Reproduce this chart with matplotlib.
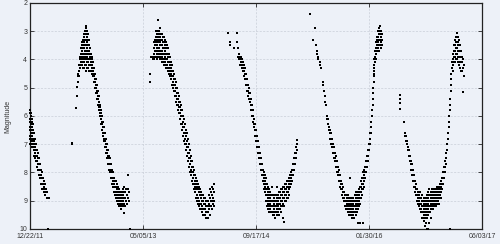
import matplotlib
matplotlib.use("Agg")
import matplotlib.pyplot as plt

# days counted from 12/22/11, each entry: (day, [magnitudes seen that day])
cycle_a = [
	(0, [5.8, 5.9, 6.1, 6.2, 6.4, 6.5, 6.7, 6.8, 7.0]),
	(4, [5.9, 6.0, 6.2, 6.3, 6.5, 6.6, 6.8, 6.9, 7.0]),
	(9, [6.1, 6.2, 6.4, 6.5, 6.7, 6.9, 7.0, 7.1]),
	(13, [6.3, 6.5, 6.6, 6.8, 6.9, 7.1]),
	(18, [6.6, 6.8, 6.9, 7.0, 7.2, 7.4]),
	(22, [6.8, 7.0, 7.1, 7.3, 7.5]),
	(27, [7.0, 7.2, 7.4, 7.6]),
	(31, [7.2, 7.4, 7.6, 7.8]),
	(35, [7.3, 7.5, 7.7, 7.9]),
	(40, [7.5, 7.7, 7.9, 8.1]),
	(44, [7.7, 7.9, 8.1, 8.2]),
	(49, [7.9, 8.1, 8.2, 8.4]),
	(53, [8.0, 8.2, 8.4, 8.6]),
	(57, [8.2, 8.4, 8.6]),
	(62, [8.3, 8.5, 8.6, 8.7]),
	(66, [8.4, 8.6, 8.8]),
	(71, [8.6, 8.7]),
	(75, [8.7, 8.9]),
	(80, [8.9, 10.0]),
	(84, [8.9]),
]

cycle_b = [
	(187, [6.95, 7.0]), (202, [5.72]), (207, [5.3]), (209, [4.98]),
	(212, [4.5, 4.6, 4.8]),
	(217, [4.2, 4.4, 4.6]),
	(221, [3.9, 4.0, 4.2, 4.3]),
	(226, [3.6, 3.8, 3.9, 4.1, 4.2]),
	(230, [3.4, 3.5, 3.7, 3.9, 4.0, 4.2]),
	(235, [3.3, 3.5, 3.6, 3.8, 4.0, 4.1, 4.3]),
	(239, [3.1, 3.2, 3.4, 3.6, 3.8, 3.9, 4.1, 4.3]),
	(243, [3.0, 3.3, 3.5, 3.7, 3.9, 4.0, 4.2]),
	(248, [2.8, 2.9, 3.1, 3.3, 3.5, 3.7, 3.8, 4.0, 4.2, 4.4]),
	(252, [3.0, 3.2, 3.4, 3.6, 3.8, 3.9, 4.1, 4.3]),
	(257, [3.1, 3.3, 3.5, 3.7, 3.8, 4.0, 4.1, 4.3]),
	(261, [3.3, 3.5, 3.7, 3.8, 4.0, 4.2, 4.4]),
	(266, [3.6, 3.8, 3.9, 4.0, 4.2, 4.4]),
	(270, [3.8, 3.9, 4.1, 4.2, 4.4]),
	(274, [3.9, 4.0, 4.2, 4.3, 4.5]),
	(279, [4.1, 4.3, 4.4, 4.6]),
	(283, [4.3, 4.5, 4.6, 4.8]),
	(288, [4.5, 4.7, 4.8, 5.0]),
	(292, [4.7, 4.9, 5.0, 5.2]),
	(297, [4.9, 5.1, 5.2, 5.4]),
	(301, [5.1, 5.3, 5.4, 5.6]),
	(305, [5.3, 5.5, 5.7, 5.8]),
	(310, [5.6, 5.7, 5.9, 6.0]),
	(314, [5.8, 5.9, 6.1, 6.3]),
	(319, [6.0, 6.2, 6.3, 6.5]),
	(323, [6.2, 6.4, 6.6, 6.7]),
	(327, [6.4, 6.6, 6.8, 6.9]),
	(332, [6.6, 6.8, 6.9, 7.1]),
	(336, [6.8, 7.0, 7.1, 7.3]),
	(341, [7.0, 7.2, 7.3, 7.5]),
	(345, [7.2, 7.4, 7.5, 7.7]),
	(349, [7.4, 7.5, 7.7, 7.9]),
	(354, [7.5, 7.7, 7.9, 8.0]),
	(358, [7.7, 7.9, 8.0, 8.2]),
	(363, [7.9, 8.0, 8.2, 8.4]),
	(367, [8.0, 8.2, 8.3, 8.5]),
	(372, [8.2, 8.4, 8.5, 8.7]),
	(376, [8.3, 8.5, 8.7, 8.8]),
	(381, [8.3, 8.5, 8.7, 8.9]),
	(385, [8.4, 8.6, 8.8, 9.0]),
	(389, [8.5, 8.7, 8.9, 9.1]),
	(394, [8.6, 8.8, 9.0, 9.2]),
	(398, [8.7, 8.9, 9.1, 9.2]),
	(403, [8.8, 9.0, 9.2, 9.3]),
	(407, [8.7, 8.9, 9.1, 9.2]),
	(412, [8.6, 8.8, 9.0, 9.2]),
	(416, [8.5, 8.7, 8.9, 9.1, 9.45]),
	(420, [8.7, 8.9, 9.2]),
	(425, [8.6, 9.0]),
	(429, [8.6, 8.8, 9.1]),
	(434, [8.1, 8.6, 8.9]),
	(438, [8.7, 9.0]),
	(443, [10.0]),
]

cycle_c = [
	(530, [4.8]), (532, [4.5]), (537, [3.9]),
	(545, [3.9, 4.0]),
	(549, [3.4, 3.6, 3.8, 4.0]),
	(553, [3.3, 3.5, 3.7, 3.9]),
	(558, [3.0, 3.2, 3.4, 3.5, 3.7, 3.9]),
	(562, [3.1, 3.3, 3.5, 3.6, 3.8, 4.0]),
	(566, [2.6, 3.0, 3.2, 3.4, 3.6, 3.7, 3.9]),
	(571, [3.0, 3.1, 3.3, 3.4, 3.6, 3.8, 3.9]),
	(575, [2.9, 3.2, 3.4, 3.5, 3.7, 3.9, 4.0]),
	(580, [3.1, 3.3, 3.5, 3.7, 3.8, 4.0]),
	(584, [3.1, 3.3, 3.5, 3.7, 3.9, 4.1]),
	(589, [3.2, 3.4, 3.6, 3.8, 4.0, 4.1]),
	(593, [3.2, 3.4, 3.6, 3.8, 4.0, 4.2]),
	(597, [3.3, 3.5, 3.7, 3.9, 4.1, 4.2]),
	(602, [3.4, 3.6, 3.8, 4.0, 4.2, 4.3]),
	(606, [3.5, 3.8, 4.0, 4.2, 4.3]),
	(611, [3.6, 3.9, 4.1, 4.3, 4.4]),
	(615, [3.8, 4.1, 4.3, 4.5]),
	(620, [3.9, 4.2, 4.4, 4.6]),
	(624, [4.1, 4.3, 4.5, 4.7]),
	(628, [4.2, 4.4, 4.6, 4.9]),
	(633, [4.4, 4.6, 4.8, 5.0]),
	(637, [4.5, 4.7, 4.9, 5.1]),
	(642, [4.7, 4.9, 5.1, 5.3]),
	(646, [4.8, 5.0, 5.3, 5.5]),
	(650, [5.0, 5.2, 5.4, 5.6]),
	(655, [5.2, 5.4, 5.6, 5.8]),
	(659, [5.3, 5.5, 5.7, 5.9]),
	(664, [5.5, 5.7, 5.9, 6.1]),
	(668, [5.6, 5.8, 6.0, 6.3]),
	(673, [5.8, 6.0, 6.3, 6.5]),
	(677, [6.0, 6.2, 6.4, 6.7]),
	(681, [6.1, 6.4, 6.6, 6.9]),
	(686, [6.3, 6.6, 6.8, 7.0]),
	(690, [6.5, 6.7, 7.0, 7.2]),
	(695, [6.6, 6.9, 7.1, 7.4]),
	(699, [6.8, 7.1, 7.3, 7.6]),
	(704, [7.0, 7.3, 7.5, 7.8]),
	(708, [7.2, 7.5, 7.7, 8.0]),
	(712, [7.4, 7.6, 7.9, 8.1]),
	(717, [7.6, 7.8, 8.0, 8.3]),
	(721, [7.8, 8.0, 8.2, 8.4]),
	(726, [7.9, 8.1, 8.4, 8.6]),
	(730, [8.1, 8.3, 8.5, 8.7]),
	(735, [8.2, 8.4, 8.6, 8.9]),
	(739, [8.3, 8.5, 8.8, 9.0]),
	(743, [8.4, 8.6, 8.9, 9.1]),
	(748, [8.5, 8.7, 9.0, 9.2]),
	(752, [8.6, 8.8, 9.1, 9.3]),
	(757, [8.7, 8.9, 9.1, 9.3]),
	(761, [8.8, 9.0, 9.2, 9.4]),
	(765, [8.8, 9.0, 9.3, 9.5]),
	(770, [8.9, 9.1, 9.3, 9.5]),
	(774, [8.9, 9.1, 9.3, 9.5]),
	(779, [9.0, 9.2, 9.4, 9.6]),
	(783, [9.0, 9.2, 9.4]),
	(788, [9.0, 9.2, 9.4, 9.6]),
	(792, [8.8, 9.1, 9.3]),
	(797, [8.6, 8.9, 9.2, 9.5]),
	(801, [8.7, 9.0, 9.2]),
	(805, [8.5, 8.8, 9.0, 9.3]),
	(810, [8.6, 8.9, 9.1]),
	(814, [8.4, 8.7, 9.0, 9.2]),
]

cycle_d = [
	(876, [3.05]), (885, [3.4, 3.5]), (903, [3.6]),
	(916, [3.05]), (918, [3.4]),
	(920, [3.6, 3.9]),
	(925, [3.8, 4.0]),
	(929, [3.9, 4.0, 4.2]),
	(934, [3.9, 4.1, 4.2]),
	(938, [4.0, 4.2, 4.3]),
	(943, [4.1, 4.3, 4.4]),
	(947, [4.2, 4.4, 4.6]),
	(951, [4.3, 4.5, 4.7]),
	(956, [4.5, 4.7, 4.9]),
	(960, [4.7, 4.9, 5.1]),
	(965, [4.9, 5.1, 5.3]),
	(969, [5.0, 5.2, 5.4]),
	(974, [5.2, 5.4, 5.5]),
	(978, [5.4, 5.6, 5.8]),
	(982, [5.6, 5.8, 6.0]),
	(987, [5.8, 6.0, 6.2]),
	(991, [6.1, 6.3, 6.4]),
	(996, [6.3, 6.5, 6.7]),
	(1000, [6.5, 6.7, 6.9]),
	(1005, [6.7, 6.9, 7.1]),
	(1009, [6.9, 7.1, 7.3]),
	(1013, [7.1, 7.3, 7.5]),
	(1018, [7.3, 7.5, 7.7]),
	(1022, [7.5, 7.7, 7.9]),
	(1027, [7.7, 7.9, 8.1]),
	(1031, [7.9, 8.1, 8.3]),
	(1035, [8.0, 8.2, 8.4, 8.6]),
	(1040, [8.1, 8.3, 8.5, 8.7]),
	(1044, [8.2, 8.4, 8.6, 8.8, 9.0]),
	(1049, [8.4, 8.6, 8.8, 9.0, 9.2]),
	(1053, [8.5, 8.7, 8.9, 9.1, 9.3]),
	(1058, [8.6, 8.8, 9.0, 9.2, 9.4]),
	(1062, [8.7, 8.9, 9.1, 9.3]),
	(1066, [8.8, 9.0, 9.2, 9.4]),
	(1071, [8.5, 8.8, 9.0, 9.2, 9.4]),
	(1075, [8.8, 9.0, 9.2, 9.4, 9.5]),
	(1080, [8.9, 9.1, 9.3, 9.5]),
	(1084, [8.8, 9.0, 9.2, 9.4, 9.6]),
	(1089, [8.8, 9.0, 9.2, 9.4]),
	(1093, [8.5, 8.9, 9.1, 9.3, 9.5]),
	(1097, [8.8, 9.0, 9.2, 9.4]),
	(1102, [8.7, 8.9, 9.1, 9.3, 9.5]),
	(1106, [8.7, 8.9, 9.1, 9.3]),
	(1111, [8.6, 8.8, 9.0, 9.2, 9.4]),
	(1115, [8.6, 8.8, 9.0, 9.2]),
	(1120, [8.5, 8.7, 8.9, 9.1, 9.6]),
	(1124, [8.5, 8.7, 8.9, 9.2, 9.75]),
	(1128, [8.4, 8.6, 8.8, 9.0]),
	(1133, [8.4, 8.6, 8.8, 9.0]),
	(1137, [8.3, 8.5, 8.7, 8.9]),
	(1142, [8.3, 8.5, 8.7, 8.9]),
	(1146, [8.2, 8.4, 8.6, 8.8]),
	(1150, [8.1, 8.3, 8.5]),
	(1155, [8.0, 8.2, 8.4]),
	(1159, [7.9, 8.1, 8.3]),
	(1164, [7.7, 7.9, 8.1]),
	(1168, [7.5, 7.7, 7.9]),
	(1173, [7.3, 7.5, 7.7]),
	(1177, [7.1, 7.3, 7.5]),
	(1181, [6.85, 7.0, 7.2]),
]

cycle_e = [
	(1238, [2.39]), (1252, [3.3]), (1260, [2.9]), (1267, [3.5]),
	(1272, [3.7, 3.8]),
	(1276, [3.9, 4.0]),
	(1281, [4.1, 4.2]),
	(1287, [4.3]),
	(1297, [4.8, 4.9]),
	(1301, [5.1]),
	(1306, [5.3, 5.5]),
	(1310, [5.6]),
	(1315, [6.0, 6.1]),
	(1319, [6.1, 6.3]),
	(1323, [6.4, 6.5]),
	(1328, [6.5, 6.6, 6.8]),
	(1332, [6.6, 6.8, 7.0]),
	(1336, [6.8, 7.0, 7.1]),
	(1341, [7.0, 7.1, 7.3]),
	(1345, [7.1, 7.3, 7.5]),
	(1350, [7.3, 7.5, 7.6]),
	(1354, [7.4, 7.6, 7.8]),
	(1358, [7.6, 7.8, 8.0]),
	(1363, [7.8, 8.0, 8.1]),
	(1367, [7.9, 8.1, 8.3]),
	(1372, [8.1, 8.3, 8.5]),
	(1376, [8.3, 8.4, 8.6]),
	(1381, [8.4, 8.6, 8.8]),
	(1385, [8.5, 8.7, 8.9]),
	(1389, [8.7, 8.9, 9.0]),
	(1394, [8.8, 9.0, 9.2]),
	(1398, [8.8, 9.0, 9.2, 9.3]),
	(1403, [8.9, 9.1, 9.3]),
	(1407, [8.8, 9.0, 9.2, 9.4]),
	(1412, [8.9, 9.1, 9.3, 9.5]),
	(1415, [8.2]),
	(1416, [9.0, 9.2, 9.4]),
	(1420, [8.9, 9.1, 9.3, 9.5]),
	(1425, [9.0, 9.2, 9.4, 9.6]),
	(1429, [8.9, 9.1, 9.3, 9.5]),
	(1434, [9.0, 9.2, 9.4, 9.6]),
	(1438, [8.8, 9.0, 9.2, 9.4]),
	(1442, [8.7, 8.9, 9.1, 9.3, 9.5]),
	(1447, [8.8, 9.0, 9.2, 9.4]),
	(1451, [8.7, 8.9, 9.1, 9.3, 9.8]),
	(1456, [8.6, 8.8, 9.0, 9.2]),
	(1460, [8.5, 8.7, 8.9, 9.1, 9.8]),
	(1465, [8.3, 8.5, 8.7, 8.9]),
	(1469, [8.2, 8.4, 8.6, 8.8]),
	(1473, [8.0, 8.2, 8.4, 8.6, 9.8]),
	(1478, [7.9, 8.1, 8.3, 8.5]),
	(1482, [7.8, 8.0, 8.2]),
	(1487, [7.6, 7.8, 8.0]),
	(1491, [7.4, 7.6, 7.8]),
	(1496, [7.2, 7.4, 7.6]),
	(1500, [7.0, 7.2]),
	(1505, [6.6, 6.8, 7.0]),
	(1509, [6.2, 6.4, 6.6]),
	(1513, [5.8, 6.0]),
	(1516, [5.4, 5.6]),
	(1518, [5.0, 5.2]),
	(1520, [4.6, 4.8]),
	(1522, [4.3, 4.5]),
	(1524, [4.0, 4.2, 4.4]),
	(1527, [3.7, 3.9, 4.1]),
	(1531, [3.4, 3.6, 3.8, 4.0]),
	(1535, [3.2, 3.3, 3.5, 3.7]),
	(1540, [3.0, 3.2, 3.4, 3.6]),
	(1544, [2.9, 3.1, 3.3, 3.5, 3.7]),
	(1549, [2.8, 3.0, 3.1, 3.3, 3.5]),
	(1553, [3.0, 3.2, 3.4, 3.6]),
	(1558, [3.1, 3.3, 3.5]),
]

cycle_f = [
	(1636, [5.25, 5.4, 5.55, 5.75]),
	(1655, [6.2]),
	(1660, [6.6, 6.7]),
	(1664, [6.7, 6.9]),
	(1669, [6.9, 7.0]),
	(1673, [7.1, 7.2]),
	(1677, [7.2, 7.4]),
	(1682, [7.4, 7.6]),
	(1686, [7.6, 7.7, 7.9]),
	(1691, [7.7, 7.9, 8.1]),
	(1695, [7.9, 8.1, 8.3]),
	(1699, [8.1, 8.3, 8.5]),
	(1704, [8.3, 8.5, 8.7]),
	(1708, [8.4, 8.6, 8.8]),
	(1713, [8.6, 8.8, 9.0]),
	(1717, [8.7, 8.9, 9.1]),
	(1721, [8.8, 9.0, 9.2]),
	(1726, [8.7, 8.9, 9.1, 9.3]),
	(1730, [8.9, 9.1, 9.3, 9.4]),
	(1735, [8.8, 9.0, 9.2, 9.4, 9.6]),
	(1739, [9.0, 9.2, 9.4, 9.6]),
	(1743, [8.9, 9.1, 9.3, 9.5, 9.7]),
	(1748, [9.0, 9.2, 9.4, 9.6, 9.9]),
	(1752, [8.9, 9.1, 9.3, 9.5, 9.8]),
	(1757, [8.8, 9.0, 9.2, 9.4, 9.6, 10.0]),
	(1761, [8.7, 8.9, 9.1, 9.3, 9.5, 10.0]),
	(1766, [8.6, 8.8, 9.0, 9.2, 9.4, 9.8]),
	(1770, [8.8, 9.0, 9.2, 9.4]),
	(1774, [8.7, 8.9, 9.1, 9.3, 9.6]),
	(1779, [8.6, 8.8, 9.0, 9.2]),
	(1783, [8.7, 8.9, 9.1, 9.3]),
	(1788, [8.6, 8.8, 9.0, 9.2]),
	(1792, [8.7, 8.9, 9.1]),
	(1797, [8.6, 8.8, 9.0, 9.2]),
	(1801, [8.5, 8.7, 8.9, 9.1]),
	(1805, [8.6, 8.8, 9.0]),
	(1810, [8.5, 8.7, 8.9, 9.1]),
	(1814, [8.4, 8.6, 8.8]),
	(1819, [8.3, 8.5, 8.7, 8.9]),
	(1823, [8.2, 8.4, 8.6]),
	(1828, [8.0, 8.2, 8.4]),
	(1832, [7.8, 8.0, 8.2]),
	(1836, [7.6, 7.8, 8.0]),
	(1841, [7.3, 7.5, 7.7]),
	(1845, [7.0, 7.2]),
	(1850, [6.6, 6.8]),
	(1854, [6.0, 6.2, 6.4]),
	(1858, [5.4, 5.6, 5.8, 10.0]),
	(1862, [4.9, 5.1]),
	(1865, [4.5, 4.7]),
	(1868, [4.1, 4.3]),
	(1872, [3.8, 4.0, 4.2, 4.4]),
	(1876, [3.5, 3.7, 3.9, 4.1]),
	(1881, [3.3, 3.5, 3.7, 3.9, 4.1]),
	(1885, [3.2, 3.4, 3.6, 3.8, 4.0]),
	(1890, [3.05, 3.2, 3.4, 3.6, 3.8, 4.0]),
	(1894, [3.2, 3.4, 3.5, 3.7, 3.9, 4.1]),
	(1898, [3.3, 3.5, 3.7, 3.9, 4.2]),
	(1903, [3.5, 3.7, 3.9, 4.1, 4.3]),
	(1907, [3.7, 3.9, 4.1, 4.4]),
	(1912, [3.9, 4.1, 4.4]),
	(1916, [4.0, 4.3, 5.14]),
	(1921, [4.2, 4.6]),
]

tick_days = [0, 500, 1000, 1500, 2000]
tick_labels = ["12/22/11", "05/05/13", "09/17/14", "01/30/16", "06/03/17"]
mag_ticks = [2, 3, 4, 5, 6, 7, 8, 9, 10]

BG = "#edf1f8"

# FLATTEN ALL OBSERVATIONS
days, mags = [], []
for cycle in [cycle_a, cycle_b, cycle_c, cycle_d, cycle_e, cycle_f]:
	for d, ms in cycle:
		for m in ms:
			days.append(d)
			mags.append(m)

plt.rcParams["font.family"] = ["Liberation Sans", "DejaVu Sans"]

fig = plt.figure(figsize=(5.0, 2.44), dpi=100, facecolor=BG)
ax = fig.add_axes([0.06, 0.0615, 0.904, 0.9265])
ax.set_facecolor(BG)

ax.scatter(days, mags, s=0.7, marker="s", color="black", linewidths=0,
           clip_on=False, zorder=3)

ax.set_xlim(0, 2000)
ax.set_ylim(10, 2)
ax.set_xticks(tick_days)
ax.set_xticklabels(tick_labels)
ax.set_yticks(mag_ticks)

ax.grid(True, ls=(0, (3, 2)), lw=0.5, color="#c9ced8")
ax.tick_params(direction="in", length=3, width=0.5, labelsize=5,
               labelcolor="#333333", top=True, right=True, pad=2)
ax.tick_params(axis="x", pad=3)
for s in ax.spines.values():
	s.set_linewidth(0.9)
	s.set_color("#222222")

ax.set_ylabel("Magnitude", fontsize=5, color="#333333", labelpad=6)

fig.savefig("out.png", dpi=100, facecolor=BG)
